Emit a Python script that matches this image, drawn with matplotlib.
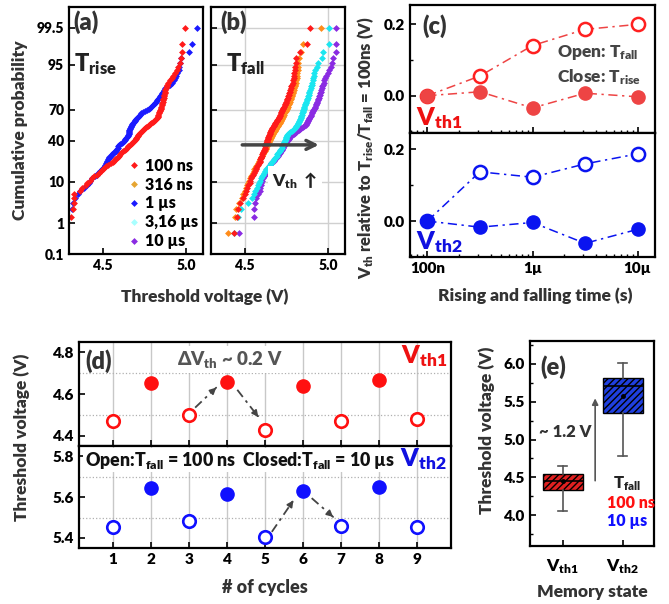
import matplotlib
matplotlib.use('Agg')
import matplotlib.pyplot as plt
from matplotlib.lines import Line2D
from matplotlib.ticker import LogLocator, NullFormatter
import numpy as np
from statistics import NormalDist

plt.rcParams['font.family'] = ['Lato', 'DejaVu Sans']
plt.rcParams['font.weight'] = 'heavy'
plt.rcParams['mathtext.fontset'] = 'custom'
plt.rcParams['mathtext.rm'] = 'Lato:heavy'
plt.rcParams['mathtext.it'] = 'Lato:heavy'
plt.rcParams['mathtext.bf'] = 'Lato:heavy'
plt.rcParams['mathtext.default'] = 'rm'
plt.rcParams['mathtext.fallback'] = 'stixsans'
plt.rcParams['axes.linewidth'] = 1.6
plt.rcParams['xtick.direction'] = 'in'
plt.rcParams['ytick.direction'] = 'in'
plt.rcParams['hatch.linewidth'] = 1.0

# ---------------- data ----------------
# (a) T_rise, sorted Vth (V) of 100 devices
rise_100ns = [4.27, 4.31, 4.33, 4.33, 4.325, 4.33, 4.365, 4.38, 4.40, 4.41,
              4.425, 4.438, 4.452, 4.468, 4.482, 4.49, 4.50, 4.51, 4.52, 4.535,
              4.55, 4.562, 4.57, 4.577, 4.584, 4.59, 4.597, 4.603, 4.61, 4.618,
              4.625, 4.632, 4.64, 4.647, 4.655, 4.662, 4.668, 4.675, 4.68, 4.688,
              4.695, 4.698, 4.702, 4.706, 4.71, 4.714, 4.718, 4.723, 4.728, 4.734,
              4.74, 4.747, 4.755, 4.762, 4.77, 4.778, 4.785, 4.792, 4.80, 4.807,
              4.815, 4.822, 4.826, 4.829, 4.831, 4.834, 4.837, 4.839, 4.842, 4.845,
              4.847, 4.849, 4.851, 4.853, 4.855, 4.857, 4.86, 4.862, 4.864, 4.866,
              4.868, 4.87, 4.872, 4.874, 4.876, 4.877, 4.883, 4.888, 4.894, 4.902,
              4.912, 4.922, 4.932, 4.942, 4.952, 4.96, 4.967, 4.973, 4.975, 4.99]
rise_1us = [4.26, 4.29, 4.316, 4.322, 4.336, 4.352, 4.367, 4.39, 4.405, 4.418,
            4.428, 4.44, 4.453, 4.465, 4.475, 4.485, 4.495, 4.505, 4.512, 4.516,
            4.52, 4.524, 4.528, 4.532, 4.536, 4.54, 4.548, 4.556, 4.564, 4.572,
            4.578, 4.582, 4.586, 4.59, 4.594, 4.60, 4.607, 4.615, 4.622, 4.628,
            4.632, 4.637, 4.642, 4.647, 4.652, 4.655, 4.656, 4.657, 4.658, 4.659,
            4.66, 4.663, 4.666, 4.669, 4.672, 4.675, 4.679, 4.684, 4.688, 4.693,
            4.697, 4.702, 4.706, 4.711, 4.718, 4.725, 4.732, 4.74, 4.753, 4.765,
            4.775, 4.784, 4.792, 4.80, 4.808, 4.816, 4.822, 4.828, 4.834, 4.84,
            4.846, 4.852, 4.857, 4.864, 4.87, 4.876, 4.89, 4.903, 4.916, 4.924,
            4.93, 4.938, 4.947, 4.956, 4.958, 4.962, 4.97, 5.016, 5.032, 5.066]

# (b) T_fall
fall_100ns = [4.44, 4.457, 4.46, 4.475, 4.492, 4.50, 4.508, 4.515, 4.522, 4.53,
              4.535, 4.54, 4.545, 4.552, 4.558, 4.562, 4.567, 4.571, 4.576, 4.581,
              4.586, 4.59, 4.592, 4.595, 4.598, 4.601, 4.604, 4.607, 4.61, 4.613,
              4.616, 4.618, 4.62, 4.622, 4.624, 4.626, 4.628, 4.63, 4.632, 4.634,
              4.636, 4.638, 4.64, 4.643, 4.645, 4.647, 4.65, 4.652, 4.655, 4.658,
              4.66, 4.664, 4.667, 4.671, 4.674, 4.678, 4.681, 4.685, 4.688, 4.692,
              4.695, 4.699, 4.703, 4.706, 4.71, 4.713, 4.716, 4.72, 4.723, 4.726,
              4.729, 4.732, 4.736, 4.739, 4.742, 4.745, 4.748, 4.751, 4.755, 4.759,
              4.762, 4.765, 4.768, 4.771, 4.774, 4.777, 4.78, 4.784, 4.787, 4.79,
              4.794, 4.796, 4.797, 4.799, 4.801, 4.805, 4.81, 4.83, 4.873, 4.894]
fall_316ns = [4.40, 4.445, 4.452, 4.467, 4.484, 4.492, 4.50, 4.507, 4.514, 4.522,
              4.527, 4.532, 4.537, 4.544, 4.55, 4.554, 4.559, 4.563, 4.568, 4.574,
              4.581, 4.586, 4.589, 4.593, 4.597, 4.601, 4.605, 4.609, 4.613, 4.617,
              4.621, 4.624, 4.627, 4.63, 4.633, 4.636, 4.639, 4.642, 4.645, 4.648,
              4.65, 4.653, 4.656, 4.66, 4.663, 4.666, 4.67, 4.673, 4.677, 4.68,
              4.684, 4.688, 4.691, 4.695, 4.698, 4.702, 4.705, 4.709, 4.712, 4.716,
              4.719, 4.722, 4.726, 4.729, 4.732, 4.735, 4.738, 4.742, 4.745, 4.748,
              4.751, 4.754, 4.757, 4.76, 4.763, 4.766, 4.769, 4.772, 4.776, 4.78,
              4.783, 4.786, 4.789, 4.792, 4.795, 4.798, 4.801, 4.804, 4.807, 4.81,
              4.812, 4.814, 4.815, 4.817, 4.819, 4.822, 4.826, 4.84, 4.85, 4.957]
fall_3us = [4.44, 4.46, 4.48, 4.52, 4.545, 4.555, 4.565, 4.576, 4.581, 4.586,
            4.59, 4.596, 4.602, 4.608, 4.614, 4.62, 4.63, 4.638, 4.645, 4.65,
            4.656, 4.662, 4.668, 4.674, 4.68, 4.686, 4.692, 4.697, 4.701, 4.705,
            4.709, 4.713, 4.717, 4.721, 4.725, 4.729, 4.732, 4.735, 4.737, 4.74,
            4.742, 4.745, 4.747, 4.75, 4.752, 4.755, 4.758, 4.766, 4.774, 4.782,
            4.79, 4.798, 4.802, 4.806, 4.81, 4.813, 4.817, 4.821, 4.824, 4.828,
            4.83, 4.832, 4.835, 4.837, 4.84, 4.842, 4.845, 4.847, 4.849, 4.852,
            4.854, 4.856, 4.858, 4.86, 4.863, 4.865, 4.868, 4.871, 4.874, 4.877,
            4.88, 4.883, 4.886, 4.888, 4.892, 4.895, 4.899, 4.902, 4.905, 4.908,
            4.911, 4.914, 4.917, 4.922, 4.93, 4.937, 4.96, 4.97, 5.007, 5.007]
fall_10us = [4.47, 4.556, 4.556, 4.56, 4.57, 4.58, 4.59, 4.593, 4.597, 4.60,
             4.605, 4.61, 4.616, 4.622, 4.628, 4.633, 4.637, 4.641, 4.645, 4.65,
             4.658, 4.666, 4.674, 4.682, 4.69, 4.695, 4.70, 4.704, 4.709, 4.713,
             4.718, 4.722, 4.726, 4.73, 4.734, 4.738, 4.742, 4.746, 4.75, 4.754,
             4.758, 4.763, 4.768, 4.773, 4.778, 4.785, 4.793, 4.80, 4.808, 4.816,
             4.824, 4.832, 4.84, 4.848, 4.856, 4.866, 4.869, 4.872, 4.875, 4.879,
             4.882, 4.885, 4.888, 4.891, 4.895, 4.898, 4.902, 4.905, 4.908, 4.911,
             4.915, 4.918, 4.921, 4.925, 4.928, 4.931, 4.934, 4.937, 4.94, 4.943,
             4.946, 4.949, 4.952, 4.955, 4.958, 4.961, 4.965, 4.969, 4.973, 4.977,
             4.982, 4.987, 4.997, 5.007, 5.016, 5.02, 5.026, 5.046, 5.046, 5.047]

prob_ticks = [0.1, 1, 10, 40, 70, 95, 99.5]
prob_labels = ['0.1', '1', '10', '40', '70', '95', '99.5']

# (c) Vth shift relative to 100 ns
times = [1e-7, 3.16e-7, 1e-6, 3.16e-6, 1e-5]
vth1_fall = [0.0, 0.055, 0.14, 0.185, 0.199]
vth1_rise = [0.0, 0.011, -0.034, 0.007, -0.003]
vth2_fall = [0.0, 0.137, 0.122, 0.159, 0.187]
vth2_rise = [0.0, -0.017, -0.004, -0.062, -0.023]

# (d) cycling
cyc_open = [1, 3, 5, 7, 9]
cyc_closed = [2, 4, 6, 8]
d_vth1_open = [4.470, 4.499, 4.430, 4.471, 4.479]
d_vth1_closed = [4.654, 4.659, 4.638, 4.667]
d_vth2_open = [5.454, 5.484, 5.405, 5.457, 5.454]
d_vth2_closed = [5.646, 5.614, 5.630, 5.651]

# (e) box stats
states = ['V$_{th1}$', 'V$_{th2}$']
box_q1 = [4.33, 5.354]
box_q3 = [4.54, 5.815]
box_med = [4.45, 5.71]
box_mean = [4.45, 5.578]
whis_lo = [4.055, 4.777]
whis_hi = [4.65, 6.01]

# ---------------- figure ----------------
W, H = 669, 604
fig = plt.figure(figsize=(W / 100, H / 100), dpi=100)


def px(l, t, r, b):
    return [l / W, 1 - b / H, (r - l) / W, (b - t) / H]


nd = NormalDist()


def probit(vals):
    return np.array([nd.inv_cdf(v) for v in vals])


def cdf_z(vals):
    n = len(vals)
    return probit((np.arange(1, n + 1) - 0.5) / n)


lab_c = '#333333'
ax_a = fig.add_axes(px(69, 7, 203, 254))
ax_b = fig.add_axes(px(211, 7, 345, 254))

red = '#ff1a1a'
orange = '#ff8c1a'
blue = '#1a1aff'
cyan = '#1ae6f0'
purple = '#8a2be2'

ax_a.plot(np.sort(rise_1us), cdf_z(rise_1us), 'D', color=blue, ms=3.5, mew=0)
ax_a.plot(np.sort(rise_100ns), cdf_z(rise_100ns), 'D', color=red, ms=3.5, mew=0)

for vals, c in [(fall_10us, purple), (fall_3us, cyan), (fall_316ns, orange), (fall_100ns, red)]:
    ax_b.plot(np.sort(vals), cdf_z(vals), 'D', color=c, ms=3.5, mew=0)

zt = probit(np.array(prob_ticks) / 100)
zlim = probit([0.001, 0.999])
for ax in (ax_a, ax_b):
    ax.set_xlim(4.3, 5.1)
    ax.set_ylim(zlim[0], zlim[1])
    ax.set_yticks(zt)
    ax.set_xticks([4.5, 5.0])
    ax.set_xticklabels(['4.5', '5.0'])
    ax.tick_params(labelsize=10, length=4, width=1.2)
ax_a.set_yticklabels(prob_labels)
ax_b.set_yticklabels([])
ax_b.grid(True, color='#d0d0d0', lw=1)
ax_b.set_axisbelow(True)

ax_a.text(0.03, 0.985, '(a)', transform=ax_a.transAxes, fontsize=17, ha='left', va='top', color=lab_c)
ax_a.text(0.04, 0.82, 'T$_{rise}$', transform=ax_a.transAxes, fontsize=17, ha='left', va='top', color='#222')
ax_b.text(0.07, 0.985, '(b)', transform=ax_b.transAxes, fontsize=17, ha='left', va='top', color=lab_c)
ax_b.text(0.11, 0.82, 'T$_{fall}$', transform=ax_b.transAxes, fontsize=17, ha='left', va='top', color='#222')

leg_colors = ['#ff1a1a', '#e6a532', '#1a1aff', '#a8ffff', '#8a2be2']
leg_labels = ['100 ns', '316 ns', '1 µs', '3,16 µs', '10 µs']
handles = [Line2D([], [], ls='none', marker='D', ms=3.5, mew=0, color=c) for c in leg_colors]
ax_a.legend(handles, leg_labels, loc='lower right', frameon=False, fontsize=11.5,
            handlelength=0.6, handletextpad=0.4, labelspacing=0.18,
            borderaxespad=0.1, borderpad=0.2)

ax_b.annotate('', xy=(4.96, -0.36), xytext=(4.47, -0.36),
              arrowprops=dict(arrowstyle='->', color='#444', lw=2.5, mutation_scale=16))
ax_b.text(4.80, -1.26, 'V$_{th}$ $\\uparrow$', fontsize=12.5, ha='center', va='center', color='#222',
          bbox=dict(facecolor='white', edgecolor='none', pad=3))

fig.text(20 / W, 1 - 130 / H, 'Cumulative probability', rotation=90, ha='center', va='center',
         fontsize=12.5, color=lab_c)
fig.text(205 / W, 1 - 297 / H, 'Threshold voltage (V)', ha='center', va='center',
         fontsize=12.5, color=lab_c)

# (c)
ax_c1 = fig.add_axes(px(410, 5, 655, 133))
ax_c2 = fig.add_axes(px(410, 133, 655, 257))
ls_dd = (0, (6, 3, 1.5, 3))
c_red = '#ee4444'
c_blue = '#0a14f0'
ax_c1.plot(times, vth1_fall, color=c_red, ls=ls_dd, lw=1.1, marker='o', ms=9.5,
           mfc='white', mec='#ff2020', mew=1.8)
ax_c1.plot(times, vth1_rise, color=c_red, ls=ls_dd, lw=1.1, marker='o', ms=9.5,
           mfc=c_red, mec=c_red)
ax_c2.plot(times, vth2_fall, color=c_blue, ls=ls_dd, lw=1.1, marker='o', ms=9.5,
           mfc='white', mec=c_blue, mew=1.8)
ax_c2.plot(times, vth2_rise, color=c_blue, ls=ls_dd, lw=1.1, marker='o', ms=9.5,
           mfc=c_blue, mec=c_blue)
ax_c1.set_ylim(-0.104, 0.253)
ax_c2.set_ylim(-0.097, 0.245)
for ax in (ax_c1, ax_c2):
    ax.set_xscale('log')
    ax.set_xlim(10 ** -7.165, 10 ** -4.835)
    ax.set_yticks([0.0, 0.2])
    ax.set_yticklabels(['0.0', '0.2'])
    ax.set_yticks([-0.1, 0.1], minor=True)
    ax.set_xticks([1e-7, 1e-6, 1e-5])
    ax.xaxis.set_minor_locator(LogLocator(base=10, subs=np.arange(2, 10)))
    ax.xaxis.set_minor_formatter(NullFormatter())
    ax.tick_params(labelsize=11, length=4, width=1.2)
    ax.tick_params(which='minor', length=2.5, width=1)
ax_c1.set_xticklabels([])
ax_c2.set_xticklabels(['100n', '1µ', '10µ'])
ax_c1.text(0.05, 0.93, '(c)', transform=ax_c1.transAxes, fontsize=17, ha='left', va='top', color=lab_c)
ax_c1.text(0.6, 0.625, 'Open: T$_{fall}$', transform=ax_c1.transAxes, fontsize=12.5,
           ha='left', va='center', color='#444')
ax_c1.text(0.6, 0.44, 'Close: T$_{rise}$', transform=ax_c1.transAxes, fontsize=12.5,
           ha='left', va='center', color='#444')
ax_c1.text(0.025, 0.06, 'V$_{th1}$', transform=ax_c1.transAxes, fontsize=18,
           ha='left', va='baseline', color='#ee1111')
ax_c2.text(0.025, 0.06, 'V$_{th2}$', transform=ax_c2.transAxes, fontsize=18,
           ha='left', va='baseline', color='#1010e0')
fig.text(366 / W, 1 - 148 / H, 'V$_{th}$ relative to T$_{rise}$/T$_{fall}$ = 100ns (V)',
         rotation=90, ha='center', va='center', fontsize=12, color=lab_c)
fig.text(535 / W, 1 - 296 / H, 'Rising and falling time (s)', ha='center', va='center',
         fontsize=12.5, color=lab_c)

# (d)
ax_d1 = fig.add_axes(px(79, 342, 451, 446))
ax_d2 = fig.add_axes(px(79, 446, 451, 548))
d_red = '#ff1010'
d_blue = '#1010ff'
ax_d1.plot(cyc_open, d_vth1_open, 'o', ms=9, mfc='white', mec=d_red, mew=1.9, zorder=3)
ax_d1.plot(cyc_closed, d_vth1_closed, 'o', ms=9.5, color=d_red, zorder=3)
ax_d2.plot(cyc_open, d_vth2_open, 'o', ms=9, mfc='white', mec=d_blue, mew=1.9, zorder=3)
ax_d2.plot(cyc_closed, d_vth2_closed, 'o', ms=9.5, color=d_blue, zorder=3)
ax_d1.set_ylim(4.352, 4.848)
ax_d2.set_ylim(5.351, 5.85)
ax_d1.set_yticks([4.4, 4.6, 4.8])
ax_d1.set_yticks([4.5, 4.7], minor=True)
ax_d2.set_yticks([5.4, 5.6, 5.8])
ax_d2.set_yticks([5.5, 5.7], minor=True)
for ax in (ax_d1, ax_d2):
    ax.set_xlim(0.1, 9.9)
    ax.set_xticks(range(1, 10))
    ax.grid(axis='x', color='#c8c8c8', lw=1)
    ax.grid(axis='y', which='minor', color='#b0b0b0', lw=0.9, ls=':')
    ax.set_axisbelow(True)
    ax.tick_params(labelsize=11, length=4, width=1.2)
    ax.tick_params(which='minor', length=0)
ax_d1.set_xticklabels([])


def dash_arrow(ax, x0, y0, x1, y1):
    f = 0.82
    xm, ym = x0 + (x1 - x0) * f, y0 + (y1 - y0) * f
    ax.plot([x0, xm], [y0, ym], color='#444', lw=1.3, ls=(0, (5, 2.5, 1.5, 2.5)), zorder=2)
    ax.annotate('', xy=(x1, y1), xytext=(xm, ym),
                arrowprops=dict(arrowstyle='-|>', color='#444', lw=1.3, mutation_scale=9), zorder=2)


dash_arrow(ax_d1, 3.16, 4.535, 3.77, 4.64)
dash_arrow(ax_d1, 4.27, 4.62, 4.87, 4.48)
dash_arrow(ax_d2, 5.18, 5.43, 5.79, 5.595)
dash_arrow(ax_d2, 6.23, 5.595, 6.85, 5.494)

ax_d1.text(0.018, 0.93, '(d)', transform=ax_d1.transAxes, fontsize=17, ha='left', va='top', color=lab_c)
ax_d1.text(4.08, 4.765, 'ΔV$_{th}$ ~ 0.2 V', fontsize=13.5, ha='center', va='center', color='#555',
           bbox=dict(facecolor='white', edgecolor='none', pad=2))
ax_d1.text(0.989, 0.8, 'V$_{th1}$', transform=ax_d1.transAxes, fontsize=18, ha='right',
           va='baseline', color='#ee1111')
ax_d2.text(0.015, 0.805, 'Open:T$_{fall}$ = 100 ns  Closed:T$_{fall}$ = 10 µs', transform=ax_d2.transAxes,
           fontsize=12.8, ha='left', va='baseline', color='#111',
           bbox=dict(facecolor='white', edgecolor='none', pad=1))
ax_d2.text(0.989, 0.8, 'V$_{th2}$', transform=ax_d2.transAxes, fontsize=18, ha='right',
           va='baseline', color='#1010e0')
fig.text(22 / W, 1 - 437 / H, 'Threshold voltage (V)', rotation=90, ha='center', va='center',
         fontsize=12.5, color=lab_c)
fig.text(265 / W, 1 - 588 / H, '# of cycles', ha='center', va='center', fontsize=13, color=lab_c)

# (e)
ax_e = fig.add_axes(px(530, 341, 654, 546))
stats = []
for i in range(2):
    stats.append(dict(med=box_med[i], q1=box_q1[i], q3=box_q3[i], whislo=whis_lo[i],
                      whishi=whis_hi[i], mean=box_mean[i], fliers=[]))
bp = ax_e.bxp(stats, positions=[1, 2], widths=0.667, patch_artist=True, showmeans=True,
              capwidths=0.15,
              boxprops=dict(edgecolor='black', lw=1.0),
              whiskerprops=dict(color='#555', lw=1.2),
              capprops=dict(color='#555', lw=1.2),
              medianprops=dict(color='black', lw=1.2),
              meanprops=dict(marker='o', ms=2.5, mfc='black', mec='black'))
for patch, c in zip(bp['boxes'], ['#e02020', '#1f3fe0']):
    patch.set_facecolor(c)
    patch.set_hatch('/////')
ax_e.set_xlim(0.455, 2.52)
ax_e.set_ylim(3.595, 6.30)
ax_e.set_yticks([4.0, 4.5, 5.0, 5.5, 6.0])
ax_e.set_yticklabels(['4.0', '4.5', '5.0', '5.5', '6.0'])
ax_e.set_yticks(np.arange(3.75, 6.3, 0.5), minor=True)
ax_e.set_xticks([1, 2])
ax_e.set_xticklabels(states)
ax_e.tick_params(labelsize=11, length=4, width=1.2)
ax_e.tick_params(axis='x', labelsize=12.5, pad=8)
ax_e.tick_params(which='minor', length=2.5, width=1)
ax_e.annotate('', xy=(1.54, 5.58), xytext=(1.54, 4.42),
              arrowprops=dict(arrowstyle='-|>', color='#555', lw=1.2, mutation_scale=9))
ax_e.text(1.05, 5.1, '~ 1.2 V', fontsize=12, ha='center', va='center', color='#333')
ax_e.text(2.07, 4.42, 'T$_{fall}$', fontsize=12, ha='center', va='center', color='#222')
ax_e.text(1.74, 4.16, '100 ns', fontsize=11.5, ha='left', va='center', color='#ff1010')
ax_e.text(1.74, 3.92, '10 µs', fontsize=11.5, ha='left', va='center', color='#1010ff')
ax_e.text(0.08, 0.93, '(e)', transform=ax_e.transAxes, fontsize=17, ha='left', va='top', color=lab_c)
fig.text(487 / W, 1 - 430 / H, 'Threshold voltage (V)', rotation=90, ha='center', va='center',
         fontsize=12.5, color=lab_c)
fig.text(592 / W, 1 - 592 / H, 'Memory state', ha='center', va='center', fontsize=12.5, color=lab_c)

fig.savefig('out.png', dpi=100)
